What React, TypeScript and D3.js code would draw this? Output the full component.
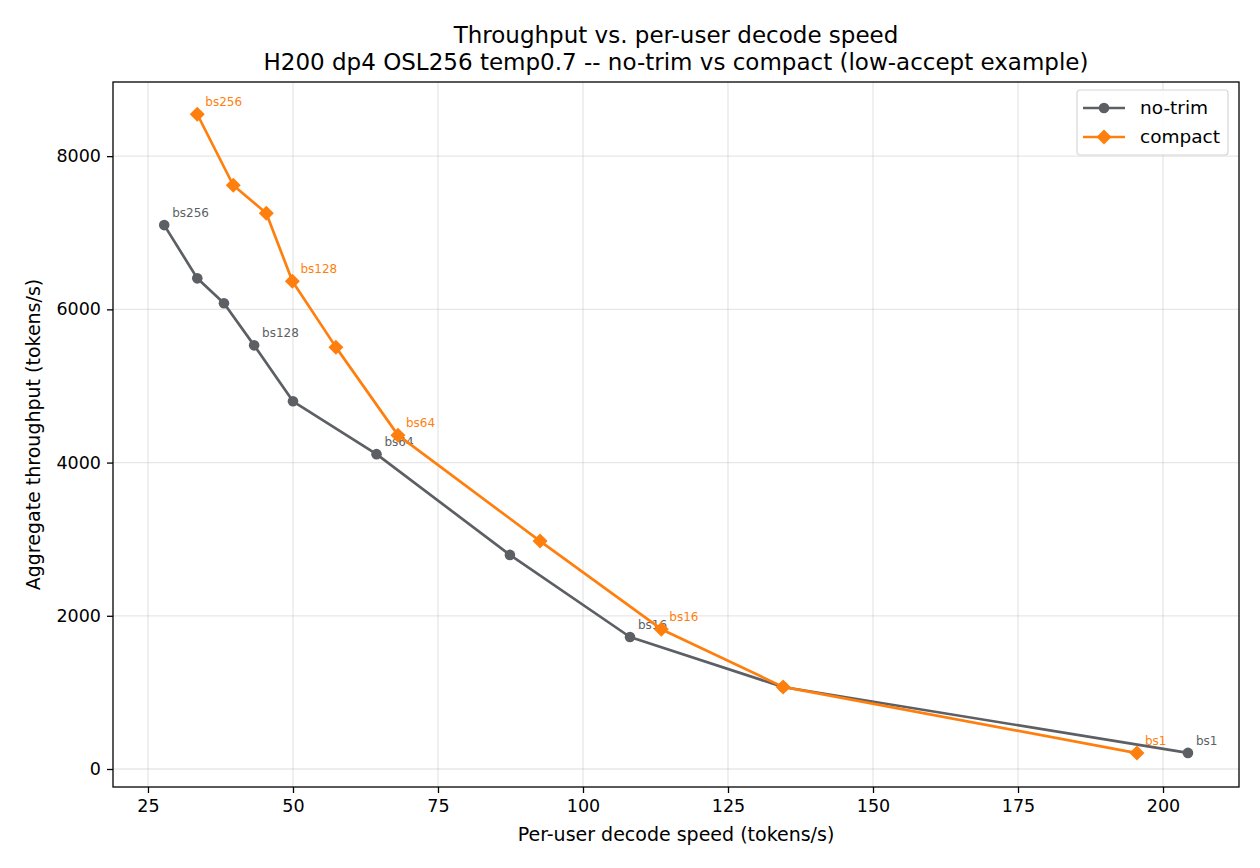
import React, { useEffect, useRef } from 'react';
import * as d3 from 'd3';

// Per-user decode speed (tokens/s) and aggregate throughput (tokens/s)
const noTrimSpeed = [27.8, 33.5, 38.1, 43.3, 50.0, 64.4, 87.4, 108.1, 134.5, 204.3];
const noTrimThroughput = [7100, 6405, 6080, 5530, 4800, 4110, 2795, 1723, 1070, 210];
const compactSpeed = [33.5, 39.7, 45.4, 49.9, 57.4, 68.1, 92.6, 113.5, 134.5, 195.5];
const compactThroughput = [8547, 7620, 7255, 6368, 5507, 4358, 2975, 1825, 1072, 208];
// batch-size annotations (blank = unlabeled point)
const pointLabels = ['bs256', '', '', 'bs128', '', 'bs64', '', 'bs16', '', 'bs1'];

const xTicks = [25, 50, 75, 100, 125, 150, 175, 200];
const yTicks = [0, 2000, 4000, 6000, 8000];

const GRAY = '#5c5f64';
const ORANGE = '#ff7f0e';

export default function App() {
  const svgRef = useRef<SVGSVGElement>(null);

  useEffect(() => {
    if (!svgRef.current) return;
    const svg = d3.select(svgRef.current);
    svg.selectAll('*').remove();

    const width = 1260;
    const height = 868;
    const margin = { top: 82, right: 21, bottom: 81, left: 113 };
    const font = 'DejaVu Sans, sans-serif';
    const cx = (margin.left + width - margin.right) / 2;

    const x = d3.scaleLinear().domain([18.97, 213.1]).range([margin.left, width - margin.right]);
    const y = d3.scaleLinear().domain([-235, 8968]).range([height - margin.bottom, margin.top]);

    svg.append('rect').attr('width', width).attr('height', height).attr('fill', '#fff');

    // grid
    const grid = svg.append('g');
    grid.selectAll('.gx').data(xTicks).join('line')
      .attr('x1', d => x(d)).attr('x2', d => x(d))
      .attr('y1', margin.top).attr('y2', height - margin.bottom)
      .attr('stroke', '#b0b0b0').attr('stroke-opacity', 0.3).attr('stroke-width', 1.3);
    grid.selectAll('.gy').data(yTicks).join('line')
      .attr('x1', margin.left).attr('x2', width - margin.right)
      .attr('y1', d => y(d)).attr('y2', d => y(d))
      .attr('stroke', '#b0b0b0').attr('stroke-opacity', 0.3).attr('stroke-width', 1.3);

    // axes
    const xAxis = svg.append('g')
      .attr('transform', `translate(0,${height - margin.bottom})`)
      .call(d3.axisBottom(x).tickValues(xTicks).tickSizeOuter(0).tickSize(6).tickPadding(6));
    const yAxis = svg.append('g')
      .attr('transform', `translate(${margin.left},0)`)
      .call(d3.axisLeft(y).tickValues(yTicks).tickFormat(d3.format('d')).tickSizeOuter(0).tickSize(6).tickPadding(6));
    [xAxis, yAxis].forEach(a => {
      a.select('.domain').remove();
      a.selectAll('text').attr('font-family', font).attr('font-size', 17.5).attr('fill', '#000');
      a.selectAll('line').attr('stroke', '#000').attr('stroke-width', 1.3);
    });
    xAxis.selectAll('text').attr('dy', '0.76em');

    // frame
    svg.append('rect')
      .attr('x', margin.left).attr('y', margin.top)
      .attr('width', width - margin.left - margin.right)
      .attr('height', height - margin.top - margin.bottom)
      .attr('fill', 'none').attr('stroke', '#000').attr('stroke-width', 1.3);

    const series = [
      { name: 'no-trim', xs: noTrimSpeed, ys: noTrimThroughput, color: GRAY, marker: 'circle' },
      { name: 'compact', xs: compactSpeed, ys: compactThroughput, color: ORANGE, marker: 'diamond' },
    ];

    const line = d3.line<[number, number]>().x(d => x(d[0])).y(d => y(d[1]));
    const circleSym = d3.symbol().type(d3.symbolCircle).size(Math.PI * 5.3 * 5.3);
    const diamondPath = (s: number) => `M0,${-s}L${s},0L0,${s}L${-s},0Z`;
    const markerPath = (m: string) => (m === 'circle' ? circleSym()! : diamondPath(7.5));

    series.forEach(s => {
      const pts = s.xs.map((v, i) => [v, s.ys[i]] as [number, number]);
      const g = svg.append('g');
      g.append('path').attr('d', line(pts)!)
        .attr('fill', 'none').attr('stroke', s.color).attr('stroke-width', 2.7)
        .attr('stroke-linejoin', 'round');
      g.selectAll('path.m').data(pts).join('path')
        .attr('class', 'm')
        .attr('transform', d => `translate(${x(d[0])},${y(d[1])})`)
        .attr('d', markerPath(s.marker))
        .attr('fill', s.color);
      g.selectAll('text').data(pts).join('text')
        .attr('x', d => x(d[0]) + 8)
        .attr('y', d => y(d[1]) - 8)
        .attr('font-family', font).attr('font-size', 12)
        .attr('fill', s.color)
        .text((_, i) => pointLabels[i]);
    });

    // titles and axis labels
    svg.append('text').attr('x', cx).attr('y', 43)
      .attr('text-anchor', 'middle').attr('font-family', font).attr('font-size', 23)
      .text('Throughput vs. per-user decode speed');
    svg.append('text').attr('x', cx).attr('y', 70)
      .attr('text-anchor', 'middle').attr('font-family', font).attr('font-size', 23)
      .text('H200 dp4 OSL256 temp0.7 -- no-trim vs compact (low-accept example)');
    svg.append('text').attr('x', cx).attr('y', 841)
      .attr('text-anchor', 'middle').attr('font-family', font).attr('font-size', 19)
      .text('Per-user decode speed (tokens/s)');
    svg.append('text')
      .attr('transform', `translate(40,${(margin.top + height - margin.bottom) / 2}) rotate(-90)`)
      .attr('text-anchor', 'middle').attr('font-family', font).attr('font-size', 19)
      .text('Aggregate throughput (tokens/s)');

    // legend
    const lg = svg.append('g').attr('transform', 'translate(1077,90)');
    lg.append('rect').attr('width', 151).attr('height', 65).attr('rx', 3)
      .attr('fill', '#fff').attr('fill-opacity', 0.8).attr('stroke', '#d6d6d6').attr('stroke-width', 1.2);
    series.forEach((s, i) => {
      const cy = 18 + i * 29;
      lg.append('line').attr('x1', 6).attr('x2', 48).attr('y1', cy).attr('y2', cy)
        .attr('stroke', s.color).attr('stroke-width', 2.7);
      lg.append('path').attr('transform', `translate(27,${cy})`)
        .attr('d', markerPath(s.marker))
        .attr('fill', s.color);
      lg.append('text').attr('x', 63).attr('y', cy).attr('dy', '0.35em')
        .attr('font-family', font).attr('font-size', 18.5).attr('fill', '#000')
        .text(s.name);
    });
  }, []);

  return (
    <svg ref={svgRef} width={1260} height={868}
      style={{ position: 'absolute', left: 0, top: 0, display: 'block' }} />
  );
}
